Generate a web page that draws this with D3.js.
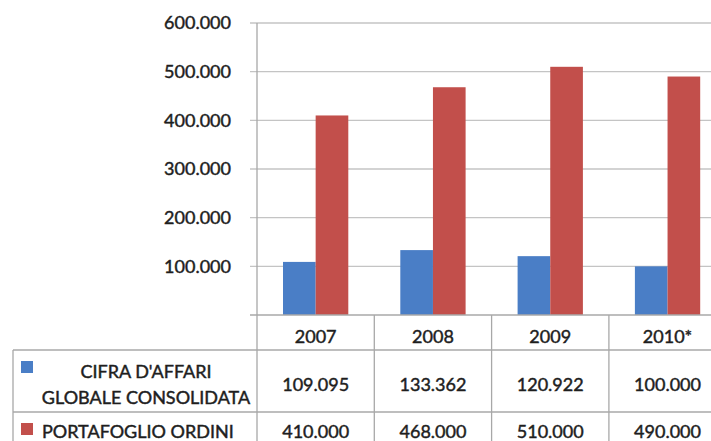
<!DOCTYPE html>
<html lang="it">
    <head>
        <meta charset="utf-8">
        <title>Cifra d'affari e portafoglio ordini</title>
        <script type="text/javascript" src="https://cdn.jsdelivr.net/npm/d3@7/dist/d3.min.js"></script>
        <style type="text/css">
           body { margin: 0; background: #fff; }
           text {
               font-family: Lato, "Open Sans", sans-serif;
               font-size: 18px;
               fill: #1e1e1e;
               stroke: #1e1e1e;
               stroke-width: 0.45px;
           }
        </style>
    </head>
    <body>
        <script type="text/javascript">

              var w = 711;
              var h = 441;

              var years = [ "2007", "2008", "2009", "2010*" ];
              var series = [ "CIFRA D'AFFARI GLOBALE CONSOLIDATA", "PORTAFOGLIO ORDINI" ];
              var cifra = [ 109095, 133362, 120922, 100000 ];
              var portafoglio = [ 410000, 468000, 510000, 490000 ];
              var yTicks = [ 100000, 200000, 300000, 400000, 500000, 600000 ];

              var colors = [ "#4a7ec6", "#c24f4b" ];
              var values = [ cifra, portafoglio ];

              var it = d3.formatLocale({ decimal: ",", thousands: ".", grouping: [3], currency: ["€", ""] });
              var fmt = it.format(",.0f");

              var plotLeft = 257, plotTop = 23, plotBottom = 315;
              var colW = 117.3;

              var svg = d3.select("body")
                          .append("svg")
                          .attr("width", w)
                          .attr("height", h);

              var x = d3.scaleBand()
                        .domain(years)
                        .range([plotLeft, plotLeft + colW * years.length]);

              var x1 = d3.scaleBand()
                         .domain(d3.range(series.length))
                         .range([26, x.bandwidth() - 26]);

              var y = d3.scaleLinear()
                        .domain([0, 600000])
                        .range([plotBottom, plotTop]);

              // gridlines + y labels
              svg.append("g")
                 .selectAll("line")
                 .data(yTicks)
                 .enter()
                 .append("line")
                 .attr("x1", plotLeft - 7)
                 .attr("x2", w)
                 .attr("y1", function(d) { return y(d); })
                 .attr("y2", function(d) { return y(d); })
                 .attr("stroke", "#c4c4c4")
                 .attr("stroke-width", 1.3);

              svg.append("g")
                 .selectAll("text")
                 .data(yTicks)
                 .enter()
                 .append("text")
                 .attr("x", 231)
                 .attr("y", function(d) { return y(d); })
                 .attr("dy", "0.35em")
                 .attr("text-anchor", "end")
                 .text(function(d) { return fmt(d); });

              // bars
              var groups = svg.selectAll("g.year")
                              .data(years)
                              .enter()
                              .append("g")
                              .attr("class", "year")
                              .attr("transform", function(d) { return "translate(" + x(d) + ",0)"; });

              groups.selectAll("rect")
                    .data(function(d, i) { return values.map(function(v, s) { return { s: s, v: v[i] }; }); })
                    .enter()
                    .append("rect")
                    .attr("x", function(d) { return x1(d.s); })
                    .attr("width", x1.bandwidth())
                    .attr("y", function(d) { return y(d.v); })
                    .attr("height", function(d) { return plotBottom - y(d.v); })
                    .attr("fill", function(d) { return colors[d.s]; });

              // table lines
              var lineColor = "#a8a8a8";
              var rowTops = [ 350, 412 ];

              svg.append("line")
                 .attr("x1", plotLeft - 7).attr("x2", w)
                 .attr("y1", plotBottom).attr("y2", plotBottom)
                 .attr("stroke", lineColor).attr("stroke-width", 1.3);

              svg.append("g")
                 .selectAll("line")
                 .data(rowTops)
                 .enter()
                 .append("line")
                 .attr("x1", 13).attr("x2", w)
                 .attr("y1", function(d) { return d; })
                 .attr("y2", function(d) { return d; })
                 .attr("stroke", lineColor).attr("stroke-width", 1.3);

              svg.append("line")
                 .attr("x1", plotLeft).attr("x2", plotLeft)
                 .attr("y1", plotTop).attr("y2", h)
                 .attr("stroke", lineColor).attr("stroke-width", 1.3);

              svg.append("line")
                 .attr("x1", 13).attr("x2", 13)
                 .attr("y1", rowTops[0]).attr("y2", h)
                 .attr("stroke", lineColor).attr("stroke-width", 1.3);

              svg.append("g")
                 .selectAll("line")
                 .data(years.slice(1))
                 .enter()
                 .append("line")
                 .attr("x1", function(d) { return x(d); })
                 .attr("x2", function(d) { return x(d); })
                 .attr("y1", plotBottom).attr("y2", h)
                 .attr("stroke", lineColor).attr("stroke-width", 1.3);

              // year labels
              svg.append("g")
                 .selectAll("text")
                 .data(years)
                 .enter()
                 .append("text")
                 .attr("x", function(d) { return x(d) + x.bandwidth() / 2; })
                 .attr("y", 337)
                 .attr("dy", "0.35em")
                 .attr("text-anchor", "middle")
                 .text(function(d) { return d; });

              // value rows
              var rowY = [ 385, 432 ];
              values.forEach(function(v, s) {
                  svg.append("g")
                     .selectAll("text")
                     .data(v)
                     .enter()
                     .append("text")
                     .attr("x", function(d, i) { return x(years[i]) + x.bandwidth() / 2; })
                     .attr("y", rowY[s])
                     .attr("dy", "0.35em")
                     .attr("text-anchor", "middle")
                     .text(function(d) { return fmt(d); });
              });

              // legend keys + series names
              var keyY = [ 361, 423 ];
              svg.append("g")
                 .selectAll("rect")
                 .data(series)
                 .enter()
                 .append("rect")
                 .attr("x", 21)
                 .attr("y", function(d, i) { return keyY[i]; })
                 .attr("width", 12)
                 .attr("height", 12)
                 .attr("fill", function(d, i) { return colors[i]; });

              svg.append("text")
                 .attr("x", 146).attr("y", 372)
                 .attr("dy", "0.35em")
                 .attr("text-anchor", "middle")
                 .text("CIFRA D'AFFARI");

              svg.append("text")
                 .attr("x", 146).attr("y", 398)
                 .attr("dy", "0.35em")
                 .attr("text-anchor", "middle")
                 .text("GLOBALE CONSOLIDATA");

              svg.append("text")
                 .attr("x", 42).attr("y", 432)
                 .attr("dy", "0.35em")
                 .text(series[1]);

        </script>
    </body>
</html>
